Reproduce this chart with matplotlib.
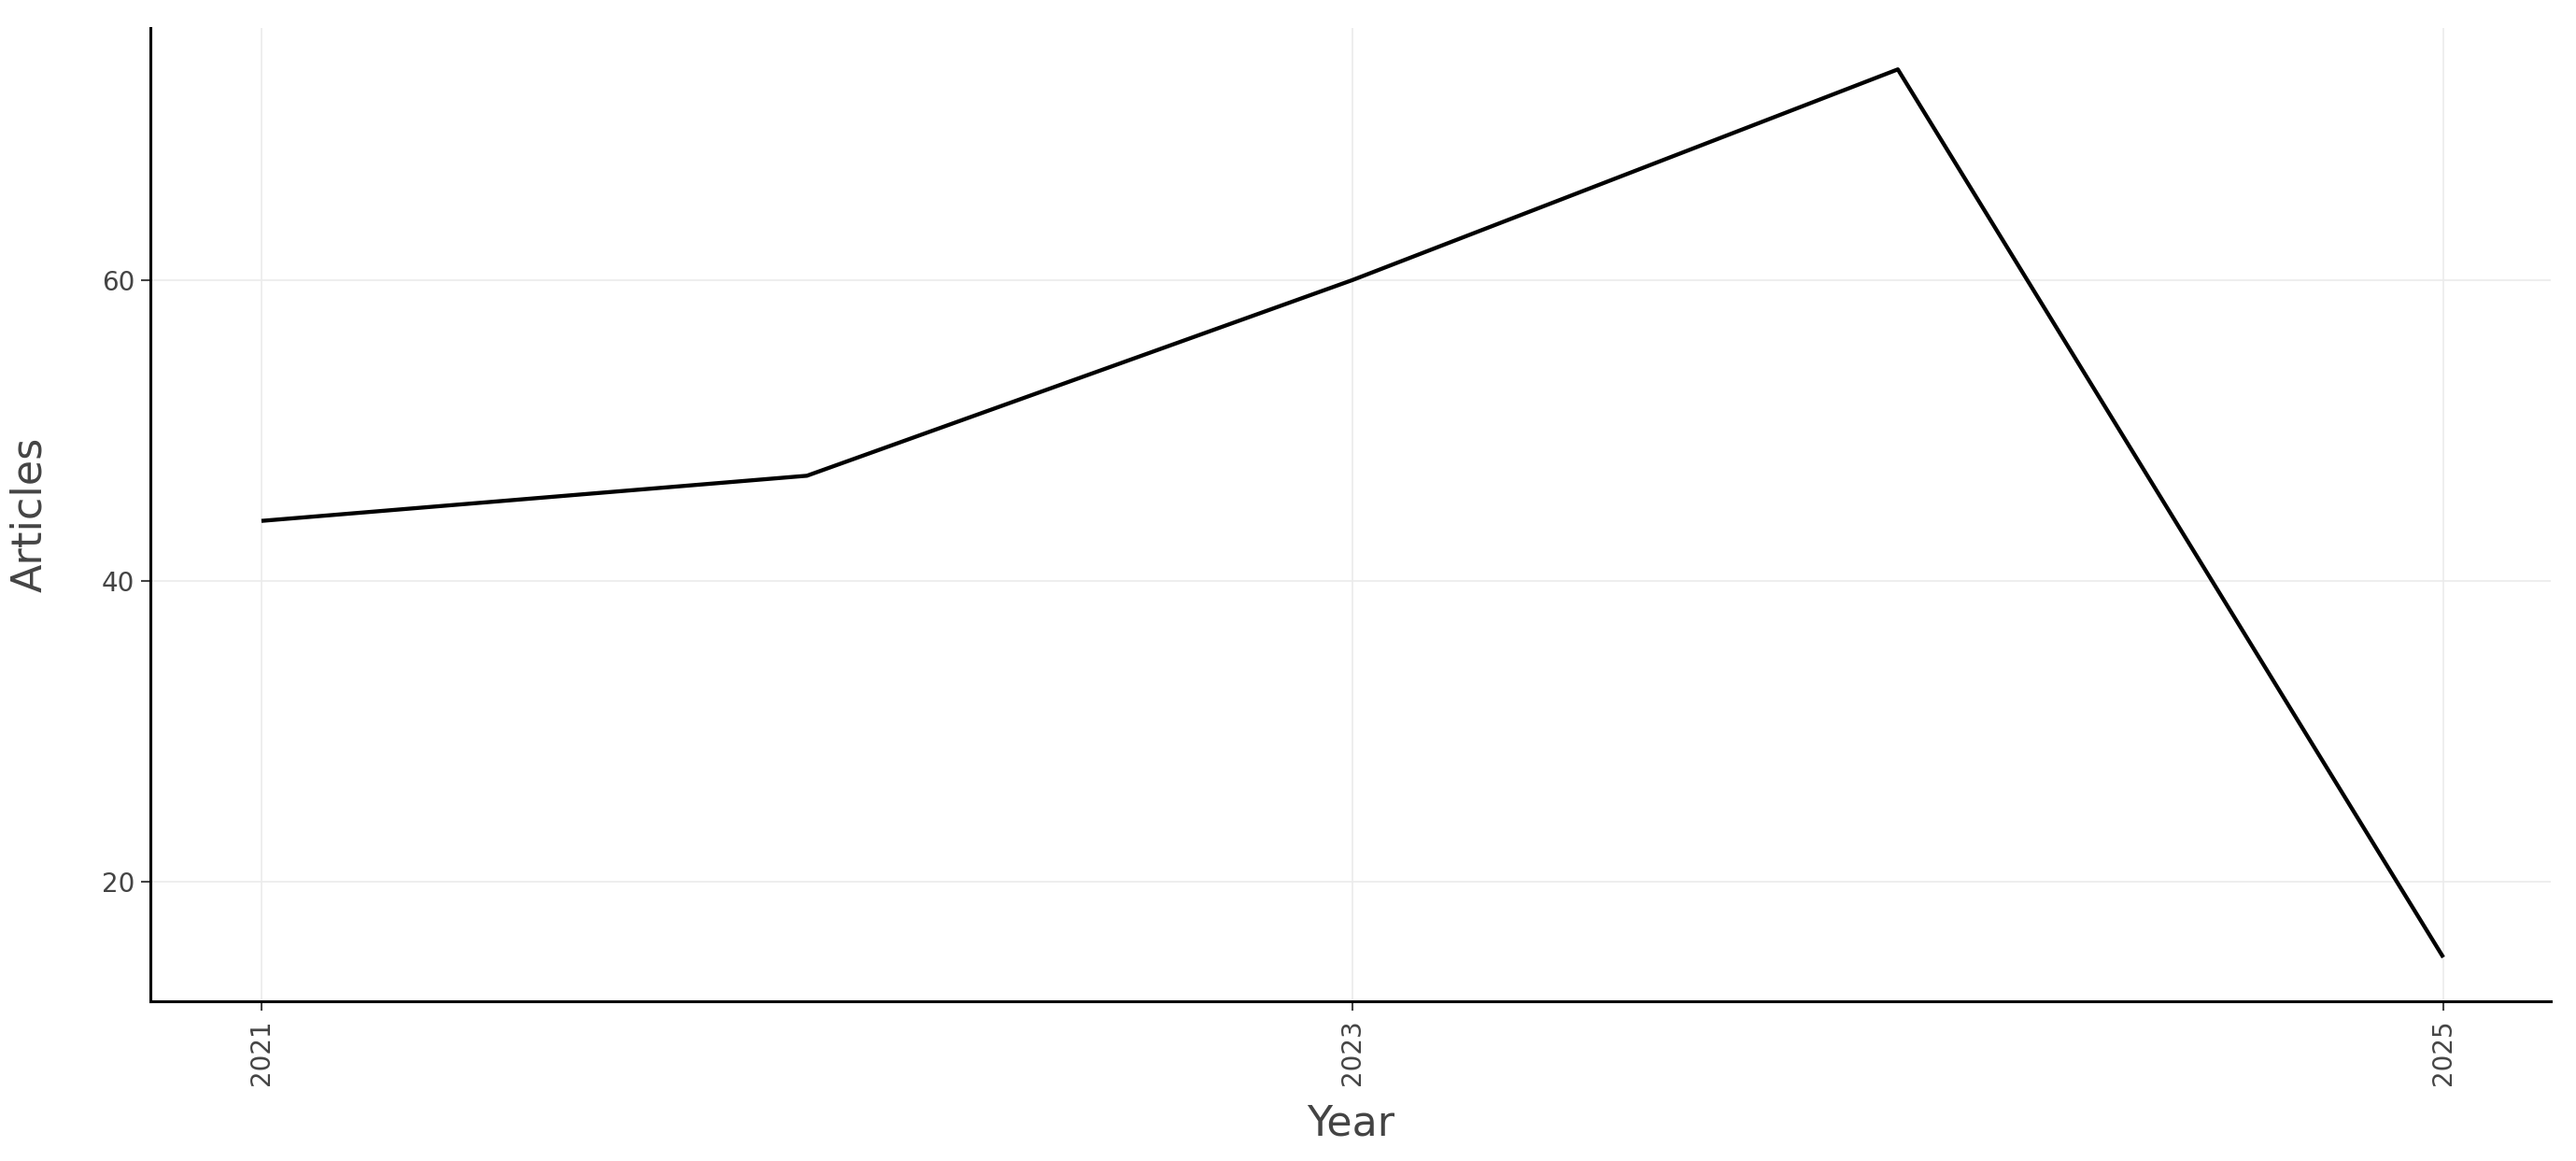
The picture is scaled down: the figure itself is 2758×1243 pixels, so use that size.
import matplotlib
matplotlib.use("Agg")
import matplotlib.pyplot as plt

# articles per year
years = [2021, 2022, 2023, 2024, 2025]
articles = [44, 47, 60, 74, 15]
xticks = [2021, 2023, 2025]
yticks = [20, 40, 60]

plt.rcParams['font.family'] = ['DejaVu Sans']

fig = plt.figure(figsize=(27.58, 12.43), dpi=100)
ax = fig.add_axes([0.0583, 0.1378, 0.9902 - 0.0583, 0.9759 - 0.1378])

ax.plot(years, articles, color='black', lw=3.1, solid_capstyle='butt', zorder=3)

ax.set_xlim(2020.796, 2025.197)
ax.set_ylim(12.1, 76.75)
ax.set_xticks(xticks)
ax.set_yticks(yticks)
ax.set_xticklabels([str(x) for x in xticks], rotation=90)

ax.grid(True, color='#ebebeb', lw=1.2, zorder=0)
for s in ['top', 'right']:
    ax.spines[s].set_visible(False)
for s in ['left', 'bottom']:
    ax.spines[s].set_linewidth(2.2)
    ax.spines[s].set_color('black')

ax.tick_params(axis='both', direction='out', length=7, width=1.5, color='#444444',
               labelsize=20, labelcolor='#444444')
ax.tick_params(axis='x', pad=7)
ax.tick_params(axis='y', pad=5)

ax.set_xlabel('Year', fontsize=32, color='#444444', labelpad=14)
ax.set_ylabel('Articles', fontsize=32, color='#444444', labelpad=40)

fig.savefig('out.png', dpi=100, facecolor='white')
